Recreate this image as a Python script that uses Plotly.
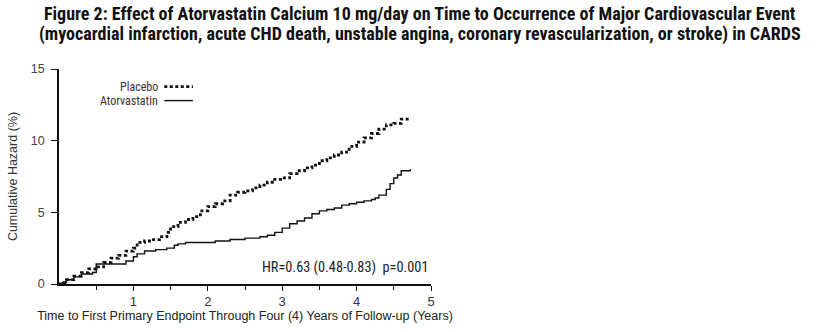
import plotly.graph_objects as go

# Placebo cumulative hazard (%) vs time (years)
placebo_t = [0.0, 0.05, 0.1, 0.2, 0.3, 0.4, 0.5, 0.6, 0.7, 0.8, 0.9, 1.0, 1.05, 1.15, 1.25,
             1.35, 1.45, 1.5, 1.6, 1.7, 1.8, 1.9, 2.0, 2.1, 2.2, 2.3, 2.4, 2.5, 2.6, 2.7,
             2.8, 2.9, 3.0, 3.1, 3.2, 3.3, 3.4, 3.5, 3.6, 3.7, 3.8, 3.9, 4.0, 4.1, 4.2,
             4.3, 4.4, 4.5, 4.6, 4.72]
placebo_y = [0.0, 0.1, 0.3, 0.55, 0.8, 1.05, 1.2, 1.5, 1.8, 2.0, 2.3, 2.5, 2.9, 3.0, 3.1,
             3.3, 3.6, 4.0, 4.3, 4.5, 4.7, 5.1, 5.4, 5.6, 5.8, 6.2, 6.4, 6.5, 6.7, 6.9,
             7.1, 7.3, 7.4, 7.7, 7.9, 8.1, 8.3, 8.6, 8.8, 9.0, 9.2, 9.6, 9.9, 10.2, 10.5,
             10.8, 11.1, 11.2, 11.5, 11.5]

# Atorvastatin cumulative hazard (%) vs time (years)
atorva_t = [0.0, 0.05, 0.1, 0.2, 0.3, 0.45, 0.5, 0.8, 0.9, 1.0, 1.05, 1.15, 1.3, 1.45, 1.55,
            1.6, 1.7, 2.0, 2.1, 2.3, 2.5, 2.7, 2.8, 2.9, 3.0, 3.1, 3.2, 3.3, 3.4, 3.5,
            3.6, 3.7, 3.8, 3.9, 4.0, 4.1, 4.2, 4.25, 4.3, 4.4, 4.45, 4.5, 4.55, 4.6, 4.72]
atorva_y = [0.0, 0.1, 0.3, 0.5, 0.7, 0.8, 1.4, 1.4, 1.6, 1.9, 2.1, 2.3, 2.4, 2.5, 2.7,
            2.8, 2.9, 2.9, 3.0, 3.1, 3.2, 3.3, 3.4, 3.6, 3.9, 4.2, 4.4, 4.6, 4.9, 5.1,
            5.2, 5.3, 5.5, 5.6, 5.7, 5.8, 5.9, 6.0, 6.2, 6.6, 7.0, 7.4, 7.6, 7.9, 8.0]

y_ticks = [0, 5, 10, 15]
x_ticks = [1, 2, 3, 4, 5]

title_lines = ["Figure 2: Effect of Atorvastatin Calcium 10 mg/day on Time to Occurrence of Major Cardiovascular Event",
               "(myocardial infarction, acute CHD death, unstable angina, coronary revascularization, or stroke) in CARDS"]
x_title = "Time to First Primary Endpoint Through Four (4) Years of Follow-up (Years)"
y_title = "Cumulative Hazard (%)"
hr_text = "HR=0.63 (0.48-0.83)  p=0.001"
legend_names = ["Placebo", "Atorvastatin"]

FONT = "Roboto Condensed, DejaVu Sans Condensed, Liberation Sans Narrow, Arial Narrow, Liberation Sans, Arial, sans-serif"
PLAIN = "Liberation Sans, Arial, sans-serif"

fig = go.Figure()
fig.add_trace(go.Scatter(x=placebo_t, y=placebo_y, mode="lines", line_shape="hv",
                         line=dict(color="#111", width=2.8, dash="3px,2.5px"),
                         name=legend_names[0], showlegend=False))
fig.add_trace(go.Scatter(x=atorva_t, y=atorva_y, mode="lines", line_shape="hv",
                         line=dict(color="#111", width=1.4),
                         name=legend_names[1], showlegend=False))

fig.update_layout(
    width=816, height=332,
    margin=dict(l=47, r=385, t=69, b=47),
    paper_bgcolor="white", plot_bgcolor="white",
    font=dict(family=PLAIN, color="#222", size=12),
    xaxis=dict(range=[0, 5], tickvals=x_ticks, ticks="outside", ticklen=5, tickwidth=1.2,
               tickcolor="#111", showline=True, linecolor="#111", linewidth=1.5,
               showgrid=False, zeroline=False, tickfont=dict(size=13, color="#333"),
               minor=dict(tickvals=[0.5, 1.5, 2.5, 3.5, 4.5], ticks="outside", ticklen=4,
                          tickcolor="#111", tickwidth=1),
               title=dict(text=x_title, font=dict(size=12.5, color="#222"), standoff=2)),
    yaxis=dict(range=[0, 15], tickvals=y_ticks, ticks="outside", ticklen=6, tickwidth=1.2,
               tickcolor="#111", showline=True, linecolor="#111", linewidth=1.5,
               showgrid=False, zeroline=False, tickfont=dict(size=12.5, color="#444"),
               ticklabelstandoff=4,
               title=dict(text=y_title, font=dict(size=12.5, color="#333"), standoff=10)),
)

# two-line bold title, placed as annotations (paper y above plot area)
for line, yy in zip(title_lines, [1.259, 1.162]):
    fig.add_annotation(x=0.971, y=yy, xref="paper", yref="paper", text="<b>" + line + "</b>",
                       showarrow=False, xanchor="center", yanchor="middle",
                       font=dict(family=FONT, size=18, color="#111"))

# legend (text to the left of its line sample)
fig.add_annotation(x=0.272, y=0.918, xref="paper", yref="paper", text=legend_names[0],
                   showarrow=False, xanchor="right", yanchor="middle",
                   font=dict(family=FONT, size=12, color="#333"))
fig.add_annotation(x=0.272, y=0.853, xref="paper", yref="paper", text=legend_names[1],
                   showarrow=False, xanchor="right", yanchor="middle",
                   font=dict(family=FONT, size=12, color="#333"))
fig.add_shape(type="line", xref="paper", yref="paper", x0=0.283, x1=0.36, y0=0.918, y1=0.918,
              line=dict(color="#111", width=2.8, dash="3px,2.5px"))
fig.add_shape(type="line", xref="paper", yref="paper", x0=0.283, x1=0.36, y0=0.853, y1=0.853,
              line=dict(color="#111", width=1.4))

fig.add_annotation(x=0.997, y=0.079, xref="paper", yref="paper", text=hr_text,
                   showarrow=False, xanchor="right", yanchor="middle",
                   font=dict(family=FONT, size=14.3, color="#222"))

fig.write_html("out.html")
